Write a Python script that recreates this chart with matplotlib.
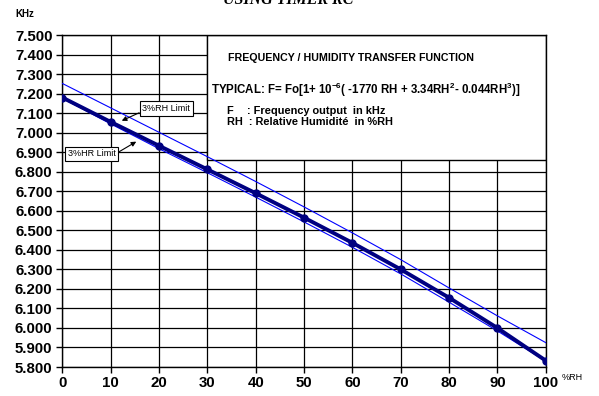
import matplotlib
matplotlib.use("Agg")
import matplotlib.pyplot as plt
from matplotlib.patches import Rectangle

plt.rcParams['font.family'] = ['Liberation Sans', 'DejaVu Sans']
plt.rcParams['mathtext.fontset'] = 'custom'
plt.rcParams['mathtext.rm'] = 'Liberation Sans'
plt.rcParams['mathtext.bf'] = 'Liberation Sans:bold'

rh = [0, 10, 20, 30, 40, 50, 60, 70, 80, 90, 100]
freq_typ = [7.180, 7.055, 6.933, 6.812, 6.690, 6.565, 6.436, 6.300, 6.155, 6.000, 5.833]
freq_upper = [7.252, 7.127, 7.002, 6.877, 6.750, 6.620, 6.487, 6.350, 6.205, 6.062, 5.925]
freq_lower = [7.176, 7.045, 6.918, 6.795, 6.670, 6.543, 6.413, 6.277, 6.132, 5.985, 5.830]

x_ticks = [0, 10, 20, 30, 40, 50, 60, 70, 80, 90, 100]
y_ticks = [5.8, 5.9, 6.0, 6.1, 6.2, 6.3, 6.4, 6.5, 6.6, 6.7, 6.8, 6.9, 7.0, 7.1, 7.2, 7.3, 7.4, 7.5]

fig = plt.figure(figsize=(5.99, 3.96), dpi=100)
ax = fig.add_axes([0.104, 0.0732, 0.807, 0.8384])

ax.set_xlim(0, 100)
ax.set_ylim(5.8, 7.5)
ax.set_xticks(x_ticks)
ax.set_yticks(y_ticks)
ax.set_xticklabels([str(v) for v in x_ticks], fontsize=10.8, fontweight='bold')
ax.set_yticklabels(['%.3f' % v for v in y_ticks], fontsize=10.8, fontweight='bold')
ax.tick_params(axis='both', direction='out', length=4, width=1, color='black', pad=3)
ax.tick_params(axis='x', pad=2.5)
ax.grid(True, color='black', linewidth=0.9, zorder=0)
ax.set_axisbelow(True)
for s in ax.spines.values():
    s.set_color('black')
    s.set_linewidth(1)

# text box
box = Rectangle((30, 6.86), 70, 0.64, facecolor='white', edgecolor='black',
                linewidth=1, zorder=1)
ax.add_patch(box)

ax.plot(rh, freq_upper, color='#0000FF', linewidth=0.8, zorder=3)
ax.plot(rh, freq_lower, color='#0000FF', linewidth=0.8, zorder=3)
ax.plot(rh, freq_typ, color='#000080', linewidth=2.8, marker='o', markersize=5,
        zorder=4)

fs = 7.7
ax.text(34.2, 7.38, 'FREQUENCY / HUMIDITY TRANSFER FUNCTION', fontsize=fs,
        fontweight='bold', va='center', ha='left', zorder=5)
ax.text(30.8, 7.221,
        r'TYPICAL: F= Fo[1+ 10$^{\mathbf{-6}}$( -1770 RH + 3.34RH$^{\mathbf{2}}$- 0.044RH$^{\mathbf{3}}$)]',
        fontsize=8.3, fontweight='bold', va='center', ha='left', zorder=5)
ax.text(34.0, 7.111, 'F', fontsize=7.9, fontweight='bold', va='center', ha='left', zorder=5)
ax.text(38.2, 7.111, ': Frequency output  in kHz', fontsize=7.9, fontweight='bold',
        va='center', ha='left', zorder=5)
ax.text(34.0, 7.055, 'RH  : Relative Humidité  in %RH', fontsize=7.9, fontweight='bold',
        va='center', ha='left', zorder=5)

bbox = dict(boxstyle='square,pad=0.3', facecolor='white', edgecolor='black', linewidth=0.8)
ax.annotate('3%RH Limit', xy=(12.3, 7.061), xytext=(21.5, 7.123), fontsize=6.5,
            ha='center', va='center', bbox=bbox, zorder=6,
            arrowprops=dict(arrowstyle='-|>', color='black', lw=0.8,
                            mutation_scale=7, shrinkA=0, shrinkB=0,
                            relpos=(0.0, 0.2)))
ax.annotate('3%HR Limit', xy=(15.3, 6.954), xytext=(6.1, 6.892), fontsize=6.5,
            ha='center', va='center', bbox=bbox, zorder=6,
            arrowprops=dict(arrowstyle='-|>', color='black', lw=0.8,
                            mutation_scale=7, shrinkA=0, shrinkB=0,
                            relpos=(1.0, 0.5)))

fig.text(25 / 599, 1 - 14 / 396, 'KHz', fontsize=7, fontweight='bold',
         ha='center', va='center')
fig.text(572 / 599, 1 - 378 / 396, '%RH', fontsize=6.5, ha='center', va='center')
fig.text(288 / 599, 1 - 4 / 396, 'USING TIMER RC', fontsize=11.5, fontweight='bold',
         fontstyle='italic', family=['Liberation Serif', 'DejaVu Serif'],
         ha='center', va='baseline')

fig.savefig('out.png', dpi=100)
